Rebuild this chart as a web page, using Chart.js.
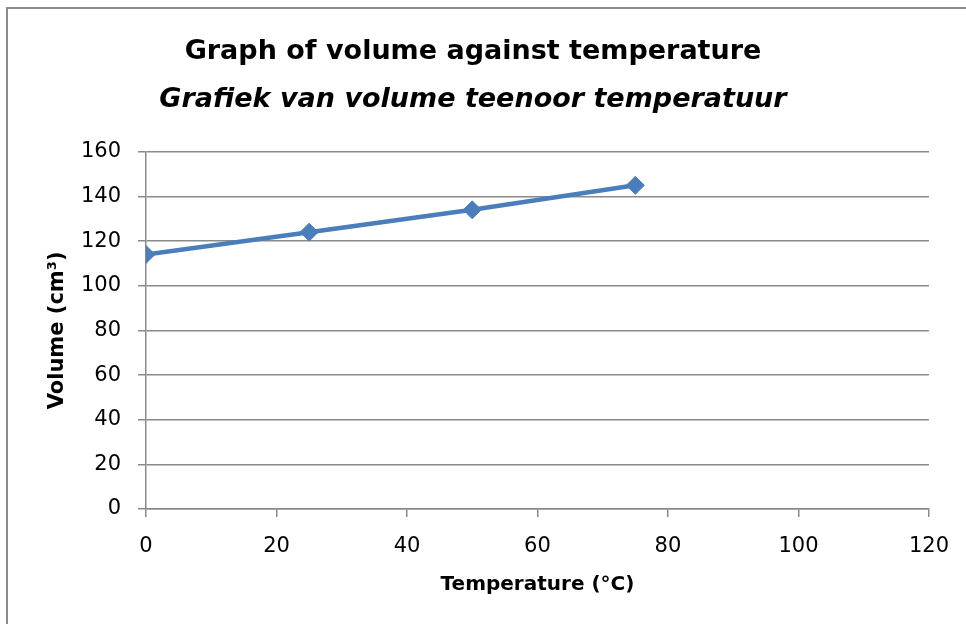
<!DOCTYPE html>
<html>
<head>
<meta charset="utf-8">
<script src="https://cdn.jsdelivr.net/npm/chart.js@4/dist/chart.umd.min.js"></script>
<style>
    html, body { margin: 0; padding: 0; background: #fff; overflow: hidden; }
    #wrap { position: relative; width: 966px; height: 624px; overflow: hidden; }
    #chart { display: block; }
    #frame {
        position: absolute; left: 6px; top: 7px; width: 960px; height: 640px;
        border-left: 2px solid #8c8c8c; border-top: 2px solid #8c8c8c;
        pointer-events: none;
    }
</style>
</head>
<body>
<div id="wrap">
    <canvas id="chart" width="966" height="624"></canvas>
    <div id="frame"></div>
</div>
<script>
const temperatures = [0, 25, 50, 75];
const volumes = [114, 124, 134, 145];

const titleLines = ["Graph of volume against temperature", "Grafiek van volume teenoor temperatuur"];
const xAxisTitle = "Temperature (°C)";
const yAxisTitle = "Volume (cm³)";

const xRange = { min: 0, max: 120, step: 20 };
const yRange = { min: 0, max: 160, step: 20 };

const fontFamily = "'DejaVu Sans', sans-serif";
const gridColor = "#8a8a8a";
const lineColor = "#4a7ebb";

const points = temperatures.map(function (t, i) {
    return { x: t, y: volumes[i] };
});

new Chart(document.getElementById("chart"), {
    type: "line",
    data: {
        datasets: [
            {
                data: points,
                borderColor: lineColor,
                backgroundColor: lineColor,
                borderWidth: 4.5,
                pointStyle: "rectRot",
                pointRadius: 9,
                pointBorderWidth: 1,
                tension: 0
            }
        ]
    },
    options: {
        responsive: false,
        animation: false,
        layout: {
            padding: { left: 16, right: 36, top: 0, bottom: 0 }
        },
        plugins: {
            legend: { display: false },
            tooltip: { enabled: false },
            title: {
                display: true,
                text: titleLines[0],
                color: "#000",
                font: { family: fontFamily, size: 27, weight: "bold" },
                padding: { top: 36, bottom: 15 }
            },
            subtitle: {
                display: true,
                text: titleLines[1],
                color: "#000",
                font: { family: fontFamily, size: 27, weight: "bold", style: "italic" },
                padding: { top: 0, bottom: 36 }
            }
        },
        scales: {
            x: {
                type: "linear",
                min: xRange.min,
                max: xRange.max,
                ticks: {
                    stepSize: xRange.step,
                    color: "#000",
                    padding: 17,
                    font: { family: fontFamily, size: 21 }
                },
                grid: {
                    drawOnChartArea: false,
                    drawTicks: true,
                    tickLength: 8,
                    color: gridColor,
                    lineWidth: 1.5
                },
                border: { color: gridColor, width: 1.5 },
                title: {
                    display: true,
                    text: xAxisTitle,
                    color: "#000",
                    font: { family: fontFamily, size: 20, weight: "bold" },
                    padding: { top: 0, bottom: 27 }
                },
                afterFit: function (scale) { scale.height = 115; }
            },
            y: {
                min: yRange.min,
                max: yRange.max,
                ticks: {
                    stepSize: yRange.step,
                    color: "#000",
                    padding: 17,
                    font: { family: fontFamily, size: 21 }
                },
                grid: {
                    tickLength: 8,
                    color: gridColor,
                    lineWidth: 1.5
                },
                border: { color: gridColor, width: 1.5 },
                title: {
                    display: true,
                    text: yAxisTitle,
                    color: "#000",
                    font: { family: fontFamily, size: 21, weight: "bold" },
                    padding: { top: 29, bottom: 0 }
                },
                afterFit: function (scale) { scale.width = 130; }
            }
        }
    }
});
</script>
</body>
</html>
